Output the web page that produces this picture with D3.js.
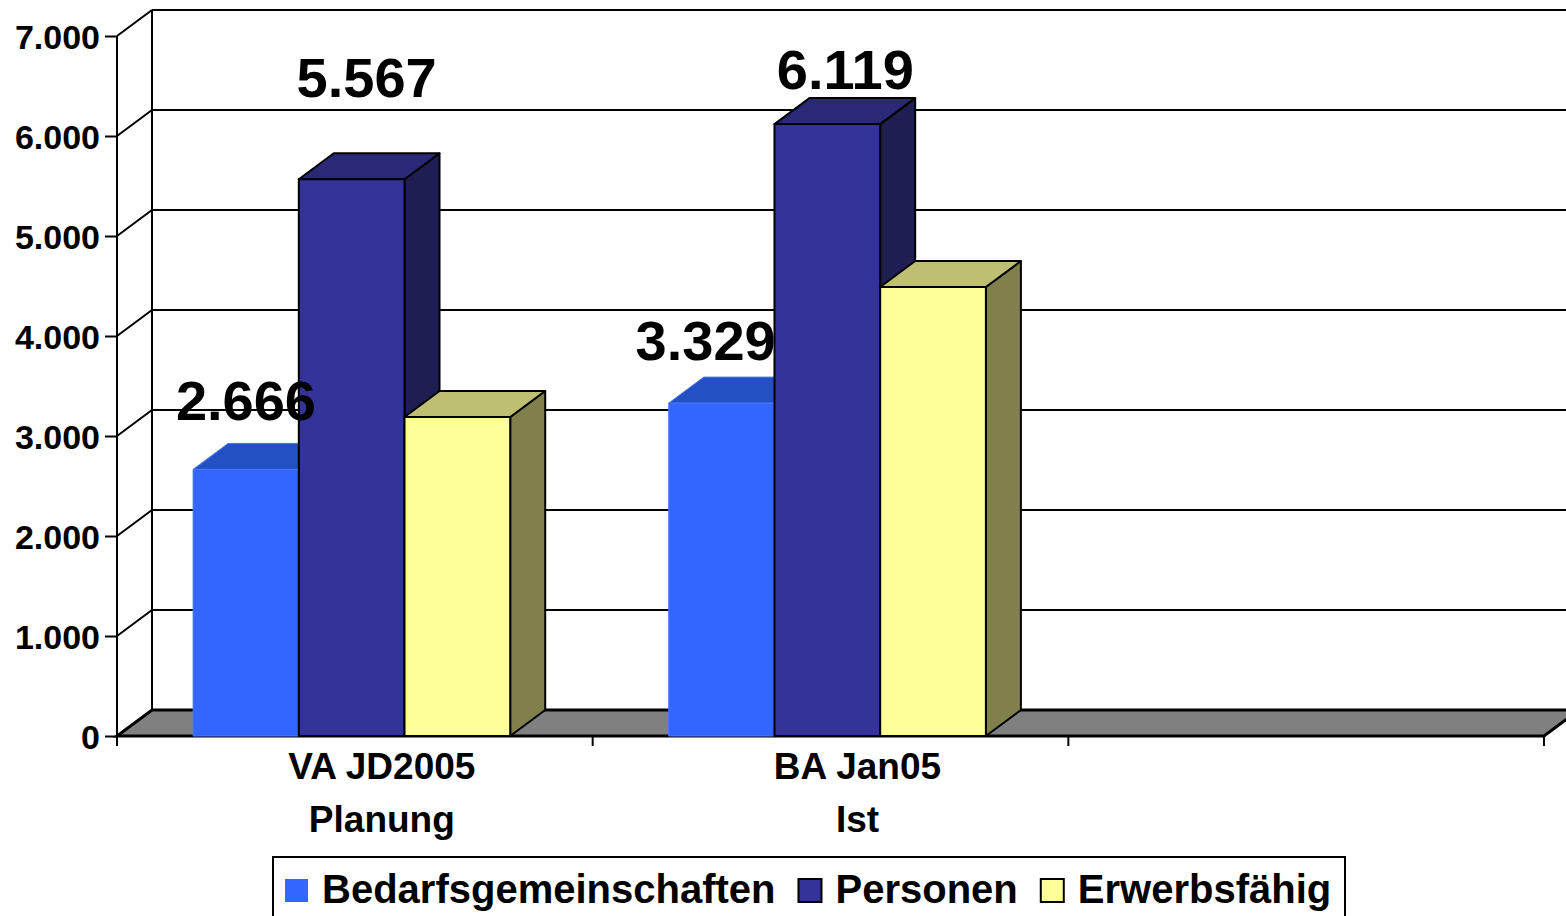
<!DOCTYPE html>
<html>
<head>
<meta charset="utf-8">
<script src="https://cdn.jsdelivr.net/npm/d3@7"></script>
<style>
  body { margin: 0; background: #fff; }
  svg { display: block; font-family: "Liberation Sans", Arial, sans-serif; font-weight: bold; }
</style>
</head>
<body>
<svg id="chart" width="1566" height="916"></svg>
<script>
// data
const categories = ["VA JD2005 Planung", "BA Jan05 Ist", "leer"];
const categoryLabels = [["VA JD2005", "Planung"], ["BA Jan05", "Ist"], []];
const seriesNames = ["Bedarfsgemeinschaften", "Personen", "Erwerbsfähig"];
const bedarfsgemeinschaften = [2666, 3329, null];
const personen = [5567, 6119, null];
const erwerbsfaehig = [3190, 4490, null];
const yTicks = [0, 1000, 2000, 3000, 4000, 5000, 6000, 7000];

const seriesValues = [bedarfsgemeinschaften, personen, erwerbsfaehig];
// which series get value labels
const labelled = [true, true, false];

// colours: front, top, side, outline
const colors = [
  { front: "#3366ff", top: "#2450c4", side: "#1a3a99", stroke: "#4676ff" },
  { front: "#333399", top: "#292978", side: "#1e1e52", stroke: "#000" },
  { front: "#ffff99", top: "#bfbf73", side: "#80804c", stroke: "#000" }
];

// manual label nudges (px) like in the original sheet, [dx, dy from bar top]
const labelNudge = [
  [[0, -49], [-16, -43]],
  [[15, -82], [18, -35]],
  [[0, -20], [0, -20]]
];

const de = d3.formatLocale({ decimal: ",", thousands: ".", grouping: [3], currency: ["", " €"] });
const fmt = de.format(",d");

const svg = d3.select("#chart");
const plotLeft = 117, plotRight = 1544, plotBottom = 736, plotTop = 36;
const depthX = 35, depthY = -26;

const x = d3.scaleBand().domain(categories).range([plotLeft, plotRight]).paddingInner(0).paddingOuter(0);
const xs = d3.scaleBand().domain(seriesNames).range([0, x.bandwidth()])
  .paddingInner(0).paddingOuter(0.75).align(0.48);
const y = d3.scaleLinear().domain([0, 7000]).range([plotBottom, plotTop]);

// back wall + side wall grid
const grid = svg.append("g").attr("stroke", "#000").attr("stroke-width", 2).attr("fill", "none");
grid.append("line")
  .attr("x1", plotLeft + depthX).attr("x2", plotLeft + depthX)
  .attr("y1", y(7000) + depthY).attr("y2", y(0) + depthY);
grid.selectAll(".back").data(yTicks.filter(d => d > 0)).join("line")
  .attr("class", "back")
  .attr("x1", plotLeft + depthX).attr("x2", plotRight + depthX)
  .attr("y1", d => y(d) + depthY).attr("y2", d => y(d) + depthY);
grid.selectAll(".diag").data(yTicks.filter(d => d > 0)).join("line")
  .attr("class", "diag")
  .attr("x1", plotLeft).attr("x2", plotLeft + depthX)
  .attr("y1", d => y(d)).attr("y2", d => y(d) + depthY);

// floor
svg.append("polygon")
  .attr("points", [[plotLeft, y(0)], [plotRight, y(0)], [plotRight + depthX, y(0) + depthY], [plotLeft + depthX, y(0) + depthY]].join(" "))
  .attr("fill", "#808080").attr("stroke", "#000").attr("stroke-width", 3);

// bars
const bars = [];
categories.forEach((c, ci) => {
  seriesNames.forEach((s, si) => {
    const v = seriesValues[si][ci];
    if (v == null) return;
    bars.push({ c, ci, s, si, v });
  });
});

const barG = svg.append("g");
bars.forEach(d => {
  const x0 = x(d.c) + xs(d.s), w = xs.bandwidth();
  const yt = y(d.v), yb = y(0);
  const col = colors[d.si];
  const sw = d.si === 0 ? 1 : 2;
  const g = barG.append("g").attr("stroke", col.stroke).attr("stroke-width", sw).attr("stroke-linejoin", "round");
  g.append("polygon")
    .attr("points", [[x0 + w, yt], [x0 + w + depthX, yt + depthY], [x0 + w + depthX, yb + depthY], [x0 + w, yb]].join(" "))
    .attr("fill", col.side);
  g.append("polygon")
    .attr("points", [[x0, yt], [x0 + w, yt], [x0 + w + depthX, yt + depthY], [x0 + depthX, yt + depthY]].join(" "))
    .attr("fill", col.top);
  g.append("rect")
    .attr("x", x0).attr("y", yt).attr("width", w).attr("height", yb - yt)
    .attr("fill", col.front);
});

// y axis
svg.append("line").attr("x1", plotLeft).attr("x2", plotLeft).attr("y1", y(7000)).attr("y2", y(0) + 10)
  .attr("stroke", "#000").attr("stroke-width", 2);
const yAxis = svg.append("g").attr("transform", `translate(${plotLeft},0)`)
  .call(d3.axisLeft(y).tickValues(yTicks).tickSize(12).tickSizeOuter(0).tickPadding(5).tickFormat(fmt));
yAxis.select(".domain").remove();
yAxis.selectAll("line").attr("stroke", "#000").attr("stroke-width", 2);
yAxis.selectAll("text").attr("font-size", 34).attr("font-weight", "bold")
  .attr("font-family", "Liberation Sans, Arial, sans-serif").attr("fill", "#000").attr("dy", "0.36em");

// x axis ticks (category boundaries)
const xBounds = categories.map(c => x(c)).concat([plotRight]);
svg.selectAll(".xtick").data(xBounds).join("line")
  .attr("class", "xtick")
  .attr("x1", d => d).attr("x2", d => d)
  .attr("y1", y(0)).attr("y2", y(0) + 10)
  .attr("stroke", "#000").attr("stroke-width", 2);

// category labels
categories.forEach((c, ci) => {
  const cx = x(c) + x.bandwidth() / 2 + 27;
  const t = svg.append("text")
    .attr("x", cx)
    .attr("y", 779)
    .attr("text-anchor", "middle")
    .attr("font-size", 37);
  categoryLabels[ci].forEach((line, li) => {
    t.append("tspan").attr("x", cx).attr("dy", li === 0 ? 0 : 53).text(line);
  });
});

// value labels
bars.filter(d => labelled[d.si]).forEach(d => {
  const nudge = labelNudge[d.si][d.ci];
  svg.append("text")
    .attr("x", x(d.c) + xs(d.s) + xs.bandwidth() / 2 + nudge[0])
    .attr("y", y(d.v) + nudge[1])
    .attr("text-anchor", "middle")
    .attr("font-size", 56)
    .text(fmt(d.v));
});

// legend
const legend = svg.append("g");
legend.append("rect").attr("x", 273).attr("y", 857).attr("width", 1072).attr("height", 80)
  .attr("fill", "#fff").attr("stroke", "#000").attr("stroke-width", 2);
let lx = 285;
seriesNames.forEach((s, si) => {
  legend.append("rect").attr("x", lx).attr("y", 879).attr("width", 23).attr("height", 23)
    .attr("fill", colors[si].front)
    .attr("stroke", si === 0 ? "none" : "#000").attr("stroke-width", 2);
  const t = legend.append("text").attr("x", lx + 37).attr("y", 903).attr("font-size", 40).text(s);
  lx = lx + 37 + t.node().getComputedTextLength() + 23;
});
</script>
</body>
</html>
